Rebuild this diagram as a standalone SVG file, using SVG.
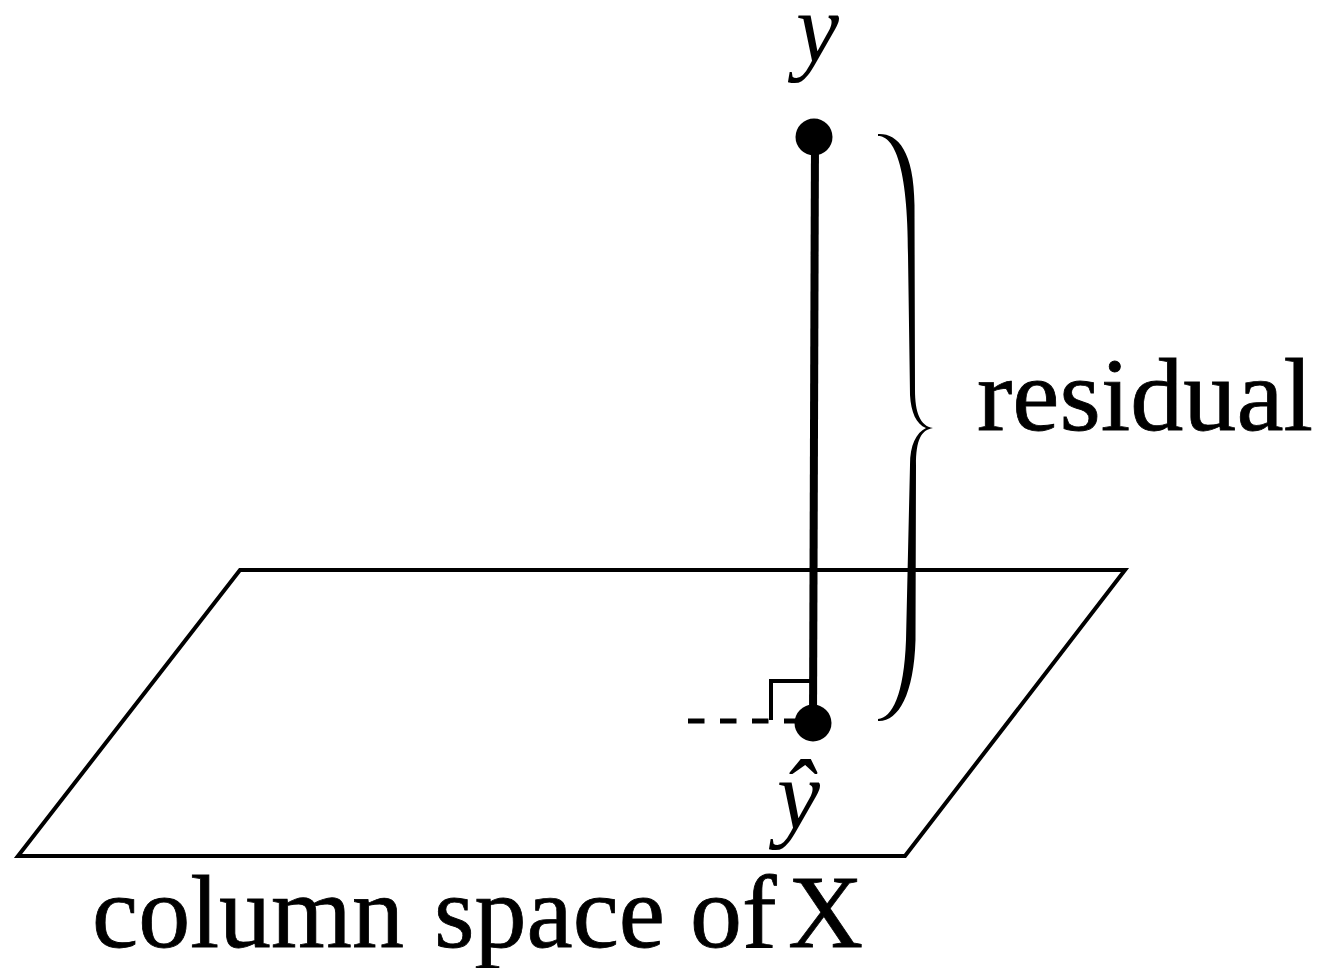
<svg xmlns="http://www.w3.org/2000/svg" width="1323" height="968" viewBox="0 0 1323 968">
<style>
.l{fill:none;stroke:#000;stroke-width:4}
.d{fill:#000}
.t{font-family:"Liberation Serif","Times New Roman",serif;fill:#000;stroke:#000;stroke-width:.8;font-size:104px}
.m{font-family:"Liberation Serif","Times New Roman",serif;font-style:italic;fill:#000;font-size:100px}
</style>
<rect width="1323" height="968" fill="#fff"/>
<g id="plane"><polygon class="l" points="240,570 1125,570 905,856 18,856"/></g>
<g id="connectors">
<line x1="815" y1="137" x2="813" y2="722" stroke="#000" stroke-width="8"/>
<line x1="688" y1="721" x2="800" y2="721" stroke="#000" stroke-width="5" stroke-dasharray="16.5 15.5"/>
<polyline class="l" points="771,720 771,681 812,681"/>
</g>
<g id="node-y"><circle class="d" cx="814" cy="137" r="18.5"/><text class="m" x="796" y="62" textLength="43" lengthAdjust="spacingAndGlyphs">y</text></g>
<g id="node-yhat"><circle class="d" cx="813" cy="723" r="18.5"/><text class="m" x="777" y="829" textLength="43" lengthAdjust="spacingAndGlyphs">ŷ</text></g>
<g id="brace"><path class="d" d="M878,134 C897,133 914,150 914.5,205 L915,390 C915,412 920,426 933,428 C921,430 916,440 916,465 L915.5,640 C914,695 898,722 878,721 L878,719 C892,718 904,695 906,640 L910,465 C910,445 916,433 926,428 C916,424 911,412 910,395 L908,255 C908,165 894,136 878,136 Z"/></g>
<g id="labels">
<text class="t" x="977" y="430" textLength="336" lengthAdjust="spacingAndGlyphs">residual</text>
<text class="t" y="947"><tspan x="92">column</tspan> <tspan x="434">space</tspan> <tspan x="690">of</tspan> <tspan x="788">X</tspan></text>
</g>
</svg>
